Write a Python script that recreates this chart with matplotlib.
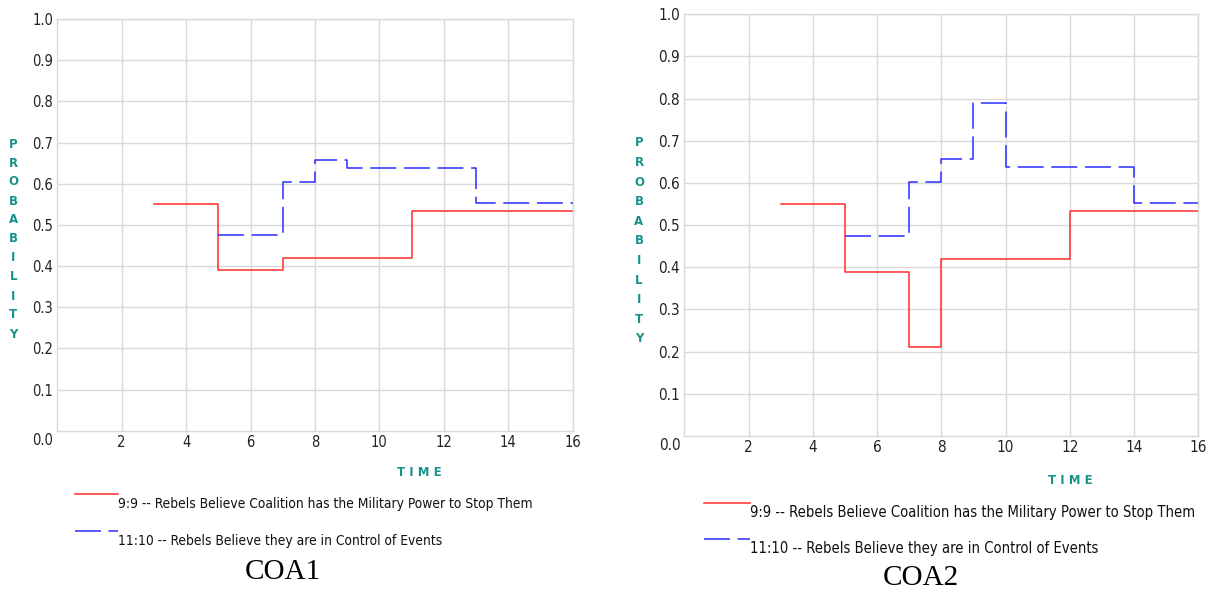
import matplotlib.pyplot as plt
from matplotlib.lines import Line2D

W, H = 1218, 593

# COA1 data
coa1_red_t = [3, 5, 7, 11, 16]
coa1_red_v = [0.55, 0.39, 0.42, 0.533, 0.533]
coa1_blue_t = [5, 7, 8, 9, 13, 16]
coa1_blue_v = [0.475, 0.603, 0.657, 0.637, 0.553, 0.553]

# COA2 data
coa2_red_t = [3, 5, 7, 8, 12, 16]
coa2_red_v = [0.55, 0.39, 0.21, 0.42, 0.533, 0.533]
coa2_blue_t = [5, 7, 8, 9, 10, 14, 16]
coa2_blue_v = [0.475, 0.603, 0.657, 0.79, 0.637, 0.553, 0.553]

xticks = [2, 4, 6, 8, 10, 12, 14, 16]
yticks = [0.1, 0.2, 0.3, 0.4, 0.5, 0.6, 0.7, 0.8, 0.9, 1.0]
red_label = '9:9 -- Rebels Believe Coalition has the Military Power to Stop Them'
blue_label = '11:10 -- Rebels Believe they are in Control of Events'

RED = '#ff2b2b'
BLUE = '#2b2bff'
TEAL = '#17928b'
GRID = '#d9d9d9'
TXT = dict(family='DejaVu Sans', fontstretch='condensed')
DASH = (0, (17, 5))


def fx(x):
    return x / W


def fy(y):
    return 1 - y / H


fig = plt.figure(figsize=(W / 100, H / 100), dpi=100)
fit_list = []


def panel(box, red_t, red_v, blue_t, blue_v, ylab_x, ylab_y0, ylab_step,
          time_xy, leg_x, leg_y, caption, cap_xy, fs, red_w):
    l, t, r, b = box
    ax = fig.add_axes([fx(l), fy(b), fx(r) - fx(l), fy(t) - fy(b)])
    ax.step(red_t, red_v, where='post', color=RED, lw=1.1)
    ax.step(blue_t, blue_v, where='post', color=BLUE, lw=1.1, linestyle=DASH)
    ax.set_xlim(0, 16)
    ax.set_ylim(0, 1)
    ax.set_xticks(xticks)
    ax.set_yticks(yticks)
    ax.set_yticklabels([f'{v:.1f}' for v in yticks], fontsize=fs, **TXT)
    ax.set_xticklabels([str(v) for v in xticks], fontsize=fs, **TXT)
    ax.tick_params(length=0, pad=3, colors='#222222')
    ax.grid(True, color=GRID, lw=1)
    ax.set_axisbelow(True)
    for s in ax.spines.values():
        s.set_color(GRID)
        s.set_linewidth(1)
    ax.annotate('0.0', xy=(0, 0), xycoords='axes fraction', xytext=(-4, -9.5),
                textcoords='offset pixels', ha='right', va='center',
                fontsize=fs, color='#222222', **TXT)

    for i, ch in enumerate('PROBABILITY'):
        fig.text(fx(ylab_x), fy(ylab_y0 + i * ylab_step), ch, ha='center', va='center',
                 fontsize=8.5, fontweight='bold', color=TEAL)
    fig.text(fx(time_xy[0]), fy(time_xy[1]), 'T I M E', ha='center', va='center',
             fontsize=8.5, fontweight='bold', color=TEAL)

    x0, x1 = leg_x
    fig.add_artist(Line2D([fx(x0), fx(x1)], [fy(leg_y[0]), fy(leg_y[0])], color=RED, lw=1.1))
    fig.add_artist(Line2D([fx(x0), fx(x1)], [fy(leg_y[1]), fy(leg_y[1])], color=BLUE, lw=1.1,
                          linestyle=DASH))
    t1 = fig.text(fx(x1), fy(leg_y[0] + 10), red_label, ha='left', va='center',
                  fontsize=fs, color='#111111', **TXT)
    t2 = fig.text(fx(x1), fy(leg_y[1] + 10), blue_label, ha='left', va='center',
                  fontsize=fs, color='#111111', **TXT)
    fit_list.append((t1, t2, red_w))
    fig.text(fx(cap_xy[0]), fy(cap_xy[1]), caption, ha='center', va='center',
             family='Liberation Serif', fontsize=21, color='black')
    return ax


panel((57.3, 19, 572.7, 430.7), coa1_red_t, coa1_red_v, coa1_blue_t, coa1_blue_v,
      13.3, 144, 19, (419, 473), (75, 118), (494, 531), 'COA1', (283, 572), 10.5, 419)
panel((684.3, 14.3, 1198.3, 436), coa2_red_t, coa2_red_v, coa2_blue_t, coa2_blue_v,
      639, 143, 19.6, (1070, 480), (704, 750), (502.5, 539), 'COA2', (921, 578), 11, 446)

# shrink legend texts so their width matches the reference
fig.canvas.draw()
r = fig.canvas.get_renderer()
for t1, t2, w in fit_list:
    k = w / t1.get_window_extent(r).width
    t1.set_fontsize(t1.get_fontsize() * k)
    t2.set_fontsize(t2.get_fontsize() * k)

fig.savefig('out.png', dpi=100)
